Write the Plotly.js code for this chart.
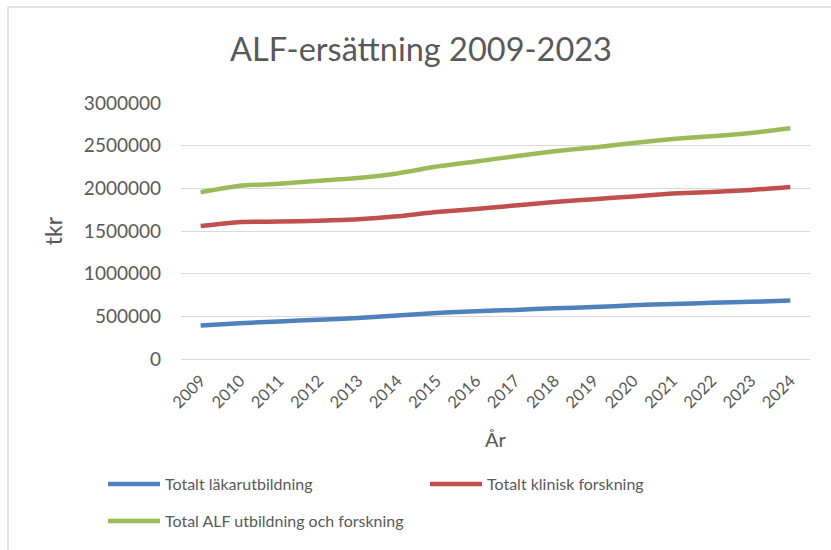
<!DOCTYPE html>
<html>
<head>
<meta charset="utf-8">
<script src="https://cdn.plot.ly/plotly-3.0.1.min.js"></script>
<style>
  html, body { margin: 0; padding: 0; background: #fff; }
  #chart { width: 831px; height: 550px; }
</style>
</head>
<body>
<div id="chart"></div>
<script>
const years = ['2009','2010','2011','2012','2013','2014','2015','2016','2017','2018','2019','2020','2021','2022','2023','2024'];
const lakarutbildning = [393000, 420000, 440000, 460000, 480000, 510000, 540000, 560000, 575000, 595000, 608000, 630000, 645000, 658000, 670000, 685000];
const kliniskForskning = [1558000, 1605000, 1610000, 1620000, 1637000, 1672000, 1723000, 1757000, 1800000, 1840000, 1872000, 1905000, 1938000, 1957000, 1980000, 2015000];
const totalALF = [1955000, 2030000, 2053000, 2088000, 2120000, 2175000, 2255000, 2315000, 2375000, 2435000, 2478000, 2530000, 2578000, 2610000, 2648000, 2704000];
const seriesNames = ['Totalt läkarutbildning', 'Totalt klinisk forskning', 'Total ALF utbildning och forskning'];

const FONT = 'Lato, "Open Sans", sans-serif';
const GREY = '#595959';

function tr(y, name, color, legend) {
  return {
    x: years, y: y, name: name, type: 'scatter', mode: 'lines',
    line: { color: color, width: 4.5, shape: 'spline', smoothing: 0.5 },
    legend: legend, hoverinfo: 'x+y+name'
  };
}

const data = [
  tr(lakarutbildning, seriesNames[0], '#4F81BD', 'legend'),
  tr(kliniskForskning, seriesNames[1], '#C0504D', 'legend'),
  tr(totalALF, seriesNames[2], '#9BBB59', 'legend2')
];

const L = 181, R = 21, T = 103, B = 191;
const PW = 831 - L - R, PH = 550 - T - B;
const px = v => (v - L) / PW;
const py = v => (550 - B - v) / PH;

const layout = {
  width: 831, height: 550,
  margin: { l: L, r: R, t: T, b: B, pad: 0 },
  paper_bgcolor: '#fff', plot_bgcolor: '#fff',
  font: { family: FONT, color: GREY, size: 16 },
  title: {
    text: 'ALF-ersättning 2009-2023',
    font: { family: FONT, size: 32.5, color: GREY },
    x: 421 / 831, xref: 'container', xanchor: 'center',
    y: 1 - 50 / 550, yref: 'container', yanchor: 'middle'
  },
  xaxis: {
    type: 'category', range: [-0.5, 15.5],
    showgrid: false, zeroline: false, showline: false, ticks: '',
    tickangle: -45, tickfont: { size: 16.5, color: GREY }, ticklabelstandoff: 8,
    title: { text: 'År', font: { size: 20, color: GREY }, standoff: 22 },
    automargin: false, fixedrange: true
  },
  yaxis: {
    range: [0, 3000000], dtick: 500000, tick0: 0,
    tickformat: 'd', separatethousands: false,
    showgrid: true, gridcolor: '#d9d9d9', gridwidth: 1.3,
    zeroline: true, zerolinecolor: '#d9d9d9', zerolinewidth: 1.3,
    showline: false, ticks: '', ticklabelstandoff: 19,
    tickfont: { size: 19, color: GREY },
    title: { text: 'tkr', font: { size: 23, color: GREY }, standoff: 14 },
    automargin: false, fixedrange: true
  },
  showlegend: true,
  legend: {
    orientation: 'h', x: px(103), xanchor: 'left', y: py(484), yanchor: 'middle',
    entrywidth: 255, entrywidthmode: 'pixels', itemwidth: 52,
    font: { size: 16, color: GREY }, bgcolor: 'rgba(0,0,0,0)', traceorder: 'normal'
  },
  legend2: {
    orientation: 'h', x: px(103), xanchor: 'left', y: py(521), yanchor: 'middle',
    itemwidth: 52,
    font: { size: 16, color: GREY }, bgcolor: 'rgba(0,0,0,0)'
  },
  shapes: [
    { type: 'line', xref: 'paper', yref: 'paper', x0: px(8), x1: px(831), y0: py(7), y1: py(7),
      line: { color: '#d9d9d9', width: 1.5 } },
    { type: 'line', xref: 'paper', yref: 'paper', x0: px(8), x1: px(8), y0: py(7), y1: py(560),
      line: { color: '#d9d9d9', width: 1.5 } }
  ]
};

Plotly.newPlot('chart', data, layout, { displayModeBar: false, staticPlot: false });
</script>
</body>
</html>
